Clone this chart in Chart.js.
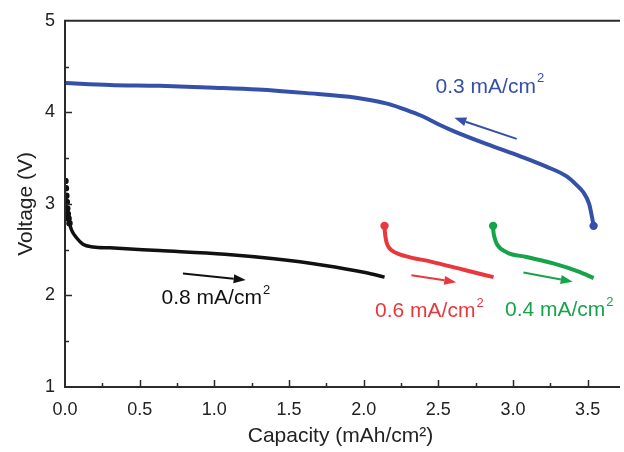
<!DOCTYPE html>
<html>
<head>
<meta charset="utf-8">
<script src="https://cdn.jsdelivr.net/npm/chart.js@4.4.1/dist/chart.umd.min.js"></script>
<style>
html, body { margin: 0; padding: 0; background: #fff; }
</style>
</head>
<body>
<canvas id="capChart" width="624" height="452"></canvas>
<script>
// capacity (mAh/cm2) vs voltage (V), one pair of arrays per current density
const cap08 = [0.003, 0.006, 0.009, 0.012, 0.015, 0.019, 0.024, 0.03, 0.045, 0.077, 0.12, 0.19, 0.30, 0.63, 1.07, 1.40, 1.73, 2.01, 2.14];
const volt08 = [3.25, 3.17, 3.09, 3.02, 2.95, 2.89, 2.84, 2.79, 2.71, 2.63, 2.56, 2.53, 2.52, 2.49, 2.45, 2.40, 2.33, 2.25, 2.20];

const cap06 = [2.14, 2.142, 2.147, 2.157, 2.19, 2.28, 2.45, 2.67, 2.87];
const volt06 = [2.76, 2.70, 2.63, 2.56, 2.49, 2.43, 2.37, 2.28, 2.20];

const cap04 = [2.867, 2.869, 2.877, 2.893, 2.96, 3.09, 3.27, 3.44, 3.54];
const volt04 = [2.76, 2.70, 2.63, 2.56, 2.47, 2.42, 2.35, 2.26, 2.19];

const cap03 = [0, 0.3, 0.63, 1.0, 1.29, 1.62, 1.95, 2.06, 2.17, 2.28, 2.39, 2.50, 2.61, 2.83, 3.05, 3.22, 3.36, 3.43, 3.47, 3.51, 3.53, 3.54];
const volt03 = [4.32, 4.30, 4.29, 4.27, 4.25, 4.21, 4.16, 4.13, 4.09, 4.03, 3.96, 3.87, 3.79, 3.65, 3.52, 3.41, 3.30, 3.20, 3.13, 3.00, 2.85, 2.76];

const xTicks = [0, 0.5, 1.0, 1.5, 2.0, 2.5, 3.0, 3.5];
const yTicks = [1, 2, 3, 4, 5];

const BLUE = '#3550a8';
const RED = '#e8383d';
const GREEN = '#17a34a';
const BLACK = '#111111';
const FONT = '"Liberation Sans", Arial, sans-serif';

function toPoints(xs, ys) {
    return xs.map(function (x, i) { return { x: x, y: ys[i] }; });
}

// labels and arrows, placed in data units
const notes = [
    { text: '0.3 mA/cm', x: 2.845, y: 4.28, color: BLUE },
    { text: '0.8 mA/cm', x: 1.01, y: 1.97, color: BLACK },
    { text: '0.6 mA/cm', x: 2.44, y: 1.83, color: RED },
    { text: '0.4 mA/cm', x: 3.31, y: 1.84, color: GREEN }
];
const arrows = [
    { x1: 3.025, y1: 3.71, x2: 2.607, y2: 3.94, color: BLUE },
    { x1: 0.79, y1: 2.24, x2: 1.21, y2: 2.17, color: BLACK },
    { x1: 2.32, y1: 2.22, x2: 2.62, y2: 2.145, color: RED },
    { x1: 3.07, y1: 2.25, x2: 3.40, y2: 2.15, color: GREEN }
];

const framePlugin = {
    id: 'frame',
    afterDraw: function (chart) {
        var ctx = chart.ctx, a = chart.chartArea;
        var xs = chart.scales.x, ys = chart.scales.y;
        ctx.save();
        ctx.strokeStyle = '#2b2b2b';
        ctx.lineWidth = 2;
        ctx.beginPath();
        ctx.moveTo(a.right + 4, a.top);
        ctx.lineTo(a.left, a.top);
        ctx.lineTo(a.left, a.bottom);
        ctx.lineTo(a.right + 4, a.bottom);
        ctx.stroke();

        // inward ticks, minor ones halfway
        ctx.lineWidth = 1.5;
        ctx.beginPath();
        xTicks.forEach(function (v) {
            var px = Math.round(xs.getPixelForValue(v)) + 0.5;
            if (v > 0) { ctx.moveTo(px, a.bottom); ctx.lineTo(px, a.bottom - 7); }
            var pm = Math.round(xs.getPixelForValue(v + 0.25)) + 0.5;
            if (pm < a.right) { ctx.moveTo(pm, a.bottom); ctx.lineTo(pm, a.bottom - 4); }
        });
        yTicks.forEach(function (v) {
            var py = Math.round(ys.getPixelForValue(v)) + 0.5;
            if (v > 1 && v < 5) { ctx.moveTo(a.left, py); ctx.lineTo(a.left + 7, py); }
            if (v < 5) {
                var pm = Math.round(ys.getPixelForValue(v + 0.5)) + 0.5;
                ctx.moveTo(a.left, pm); ctx.lineTo(a.left + 4, pm);
            }
        });
        ctx.stroke();

        arrows.forEach(function (ar) {
            var x1 = xs.getPixelForValue(ar.x1), y1 = ys.getPixelForValue(ar.y1);
            var x2 = xs.getPixelForValue(ar.x2), y2 = ys.getPixelForValue(ar.y2);
            var ang = Math.atan2(y2 - y1, x2 - x1);
            var hl = 12, hw = 4.5;
            var bx = x2 - hl * Math.cos(ang), by = y2 - hl * Math.sin(ang);
            ctx.strokeStyle = ar.color;
            ctx.fillStyle = ar.color;
            ctx.lineWidth = 2;
            ctx.beginPath();
            ctx.moveTo(x1, y1);
            ctx.lineTo(bx, by);
            ctx.stroke();
            ctx.beginPath();
            ctx.moveTo(x2, y2);
            ctx.lineTo(bx + hw * Math.sin(ang), by - hw * Math.cos(ang));
            ctx.lineTo(bx - hw * Math.sin(ang), by + hw * Math.cos(ang));
            ctx.closePath();
            ctx.fill();
        });

        // current density labels with a raised 2
        notes.forEach(function (n) {
            var cx = xs.getPixelForValue(n.x), cy = ys.getPixelForValue(n.y);
            ctx.font = '21px ' + FONT;
            var w1 = ctx.measureText(n.text).width;
            ctx.font = '13px ' + FONT;
            var w2 = ctx.measureText('2').width;
            var sx = cx - (w1 + w2 + 1) / 2;
            ctx.fillStyle = n.color;
            ctx.textBaseline = 'middle';
            ctx.textAlign = 'left';
            ctx.font = '21px ' + FONT;
            ctx.fillText(n.text, sx, cy);
            ctx.font = '13px ' + FONT;
            ctx.fillText('2', sx + w1 + 1, cy - 8);
        });
        ctx.restore();
    }
};

Chart.defaults.font.family = FONT;
Chart.defaults.color = '#222';

var ctx = document.getElementById('capChart').getContext('2d');
var chart = new Chart(ctx, {
    type: 'scatter',
    data: {
        datasets: [
            {
                label: '0.8 mA/cm2',
                data: toPoints(cap08, volt08),
                showLine: true,
                borderColor: BLACK,
                backgroundColor: BLACK,
                borderWidth: 3.5,
                cubicInterpolationMode: 'monotone',
                pointRadius: function (c) { return c.dataIndex < 8 ? 1.5 : 0; },
                segment: {
                    borderDash: function (c) { return c.p0DataIndex < 6 ? [1.5, 2.5] : undefined; },
                    borderWidth: function (c) { return c.p0DataIndex < 6 ? 2 : undefined; }
                }
            },
            {
                label: '0.6 mA/cm2',
                data: toPoints(cap06, volt06),
                showLine: true,
                borderColor: RED,
                backgroundColor: RED,
                borderWidth: 4,
                cubicInterpolationMode: 'monotone',
                pointRadius: function (c) { return c.dataIndex === 0 ? 2.2 : 0; }
            },
            {
                label: '0.4 mA/cm2',
                data: toPoints(cap04, volt04),
                showLine: true,
                borderColor: GREEN,
                backgroundColor: GREEN,
                borderWidth: 4,
                cubicInterpolationMode: 'monotone',
                pointRadius: function (c) { return c.dataIndex === 0 ? 2.2 : 0; }
            },
            {
                label: '0.3 mA/cm2',
                data: toPoints(cap03, volt03),
                showLine: true,
                borderColor: BLUE,
                backgroundColor: BLUE,
                borderWidth: 4,
                cubicInterpolationMode: 'monotone',
                pointRadius: function (c) { return c.dataIndex === cap03.length - 1 ? 2.2 : 0; }
            }
        ]
    },
    options: {
        responsive: false,
        animation: false,
        layout: { padding: { top: 19, right: 0, left: 0, bottom: 0 } },
        plugins: {
            legend: { display: false },
            tooltip: { enabled: false }
        },
        scales: {
            x: {
                type: 'linear',
                min: 0,
                max: 3.69,
                afterBuildTicks: function (s) { s.ticks = xTicks.map(function (v) { return { value: v }; }); },
                afterFit: function (s) { s.height = 65; },
                grid: { display: false, drawTicks: false },
                border: { display: false },
                ticks: {
                    padding: 12,
                    font: { size: 18 },
                    color: '#222',
                    maxRotation: 0,
                    callback: function (v) { return Number(v).toFixed(1); }
                },
                title: {
                    display: true,
                    text: 'Capacity (mAh/cm²)',
                    font: { size: 21 },
                    color: '#222',
                    padding: { top: 0, bottom: 3 }
                }
            },
            y: {
                min: 1,
                max: 5,
                afterBuildTicks: function (s) { s.ticks = yTicks.map(function (v) { return { value: v }; }); },
                afterFit: function (s) { s.width = 65; },
                grid: { display: false, drawTicks: false },
                border: { display: false },
                ticks: {
                    padding: 10,
                    font: { size: 18 },
                    color: '#222'
                },
                title: {
                    display: true,
                    text: 'Voltage (V)',
                    font: { size: 21 },
                    color: '#222',
                    padding: { top: 14, bottom: 0 }
                }
            }
        }
    },
    plugins: [framePlugin]
});
</script>
</body>
</html>
